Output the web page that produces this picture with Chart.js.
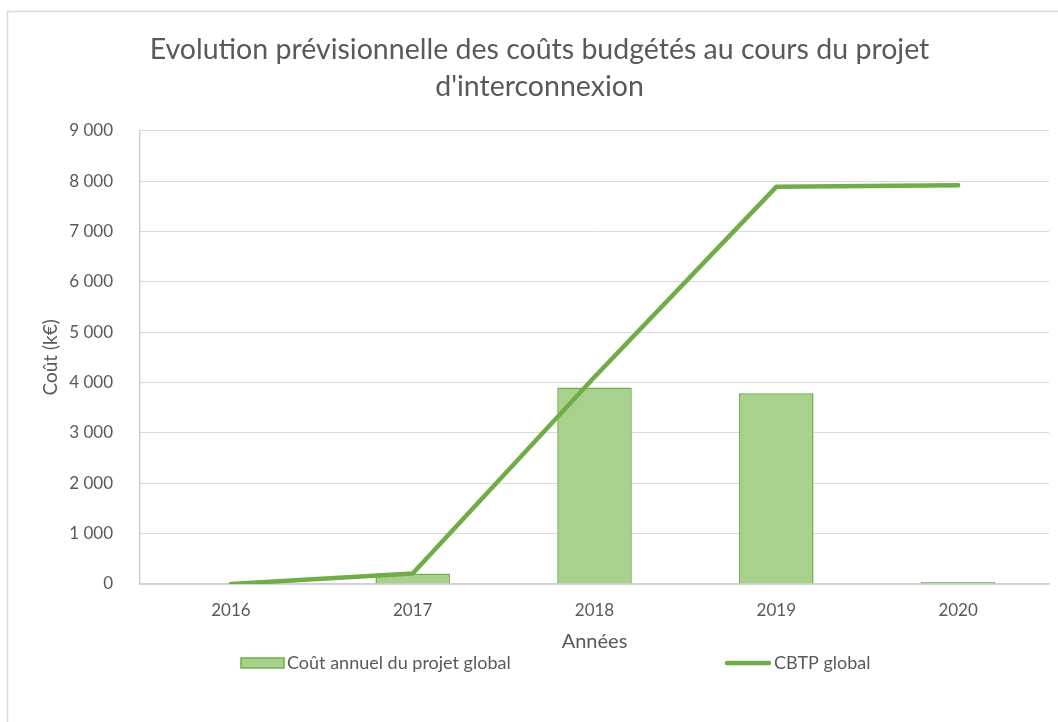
<!DOCTYPE html>
<html lang="fr">
<head>
    <meta charset="UTF-8" />
    <title>Evolution prévisionnelle des coûts budgétés</title>
    <script src="https://cdn.jsdelivr.net/npm/chart.js"></script>
    <style>
        html, body { margin: 0; padding: 0; background: #fff; }
        #wrap { position: relative; width: 1058px; height: 722px; }
    </style>
</head>
<body>
<div id="wrap"><canvas id="coutChart"></canvas></div>
<script>
    // données (k€)
    const annees = ['2016', '2017', '2018', '2019', '2020'];
    const coutAnnuel = [0, 210, 3900, 3785, 40];
    const cbtpGlobal = [0, 210, 4110, 7885, 7915];
    const titre = ['Evolution prévisionnelle des coûts budgétés au cours du projet', "d'interconnexion"];

    const textColor = '#595959';
    const fontFamily = 'Lato, "Open Sans", sans-serif';

    function formatMilliers(v) {
        return String(v).replace(/\B(?=(\d{3})+(?!\d))/g, ' ');
    }

    // cadre gris du graphique (bords gauche et haut)
    const cadre = {
        id: 'cadre',
        afterLayout(chart) {
            // le titre d'origine est un peu décalé vers la droite
            chart.titleBlock.left += 15;
            chart.titleBlock.right += 15;
        },
        beforeDraw(chart) {
            const ctx = chart.ctx;
            ctx.save();
            ctx.fillStyle = '#fff';
            ctx.fillRect(0, 0, chart.width, chart.height);
            ctx.strokeStyle = '#D9D9D9';
            ctx.lineWidth = 1.5;
            ctx.beginPath();
            ctx.moveTo(7.5, chart.height);
            ctx.lineTo(7.5, 11.5);
            ctx.lineTo(chart.width, 11.5);
            ctx.stroke();
            ctx.restore();
        }
    };

    // légende en bas, dessinée à partir des jeux de données
    const legendeBas = {
        id: 'legendeBas',
        afterDraw(chart, args, opts) {
            const ctx = chart.ctx;
            ctx.save();
            ctx.font = opts.fontSize + 'px ' + fontFamily;
            ctx.textBaseline = 'middle';
            const y = opts.y;
            chart.data.datasets.forEach((ds, i) => {
                let x = opts.itemX[i];
                if (ds.type === 'line') {
                    ctx.strokeStyle = ds.borderColor;
                    ctx.lineWidth = ds.borderWidth;
                    ctx.lineCap = 'round';
                    ctx.beginPath();
                    ctx.moveTo(x + 2, y);
                    ctx.lineTo(x + opts.lineWidth - 2, y);
                    ctx.stroke();
                    x += opts.lineWidth + 3;
                } else {
                    ctx.fillStyle = ds.backgroundColor;
                    ctx.strokeStyle = ds.borderColor;
                    ctx.lineWidth = 1.5;
                    ctx.fillRect(x, y - 5, opts.boxWidth, 10);
                    ctx.strokeRect(x, y - 5, opts.boxWidth, 10);
                    x += opts.boxWidth + 3;
                }
                ctx.fillStyle = textColor;
                ctx.fillText(ds.label, x, y);
            });
            ctx.restore();
        }
    };

    const ctx = document.getElementById('coutChart').getContext('2d');
    new Chart(ctx, {
        data: {
            labels: annees,
            datasets: [{
                type: 'bar',
                label: 'Coût annuel du projet global',
                data: coutAnnuel,
                backgroundColor: '#A9D18E',
                borderColor: '#70AD47',
                borderWidth: 1.5,
                barPercentage: 0.41,
                categoryPercentage: 1,
                order: 1
            }, {
                type: 'line',
                label: 'CBTP global',
                data: cbtpGlobal,
                borderColor: '#70AD47',
                backgroundColor: '#70AD47',
                borderWidth: 4.5,
                borderCapStyle: 'round',
                borderJoinStyle: 'round',
                pointRadius: 0,
                tension: 0,
                fill: false,
                order: 0
            }]
        },
        options: {
            responsive: true,
            maintainAspectRatio: false,
            animation: false,
            layout: { padding: { left: 0, right: 9, top: 0, bottom: 60 } },
            plugins: {
                legend: { display: false },
                tooltip: { enabled: false },
                title: {
                    display: true,
                    text: titre,
                    color: textColor,
                    font: { family: fontFamily, size: 28.5, weight: 'normal', lineHeight: 1.31 },
                    padding: { top: 31, bottom: 25 }
                },
                legendeBas: { itemX: [241, 725], y: 663, boxWidth: 43, lineWidth: 46, fontSize: 18 }
            },
            scales: {
                x: {
                    offset: true,
                    grid: { display: false },
                    border: { display: true, color: '#D0D0D0', width: 1.5 },
                    ticks: { color: textColor, font: { family: fontFamily, size: 17 }, padding: 8 },
                    title: {
                        display: true,
                        text: 'Années',
                        color: textColor,
                        font: { family: fontFamily, size: 20 },
                        padding: { top: 4, bottom: 8 }
                    },
                    afterFit(scale) { scale.height = 78; }
                },
                y: {
                    min: 0,
                    max: 9000,
                    grid: { color: '#D9D9D9', drawTicks: false },
                    border: { display: true, color: '#D0D0D0', width: 1.5 },
                    ticks: {
                        stepSize: 1000,
                        color: textColor,
                        font: { family: fontFamily, size: 17 },
                        padding: 27,
                        callback: v => formatMilliers(v)
                    },
                    title: {
                        display: true,
                        text: 'Coût (k€)',
                        color: textColor,
                        font: { family: fontFamily, size: 19 },
                        padding: { top: 39, bottom: 0 }
                    },
                    afterFit(scale) { scale.width = 140; }
                }
            }
        },
        plugins: [cadre, legendeBas]
    });
</script>
</body>
</html>
